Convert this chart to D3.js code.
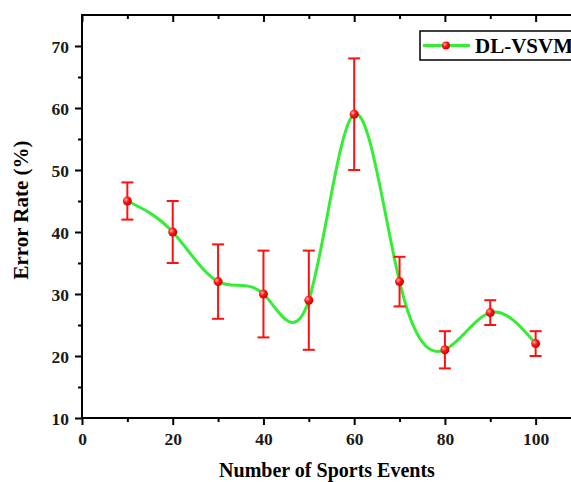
<!DOCTYPE html>
<html lang="en">
<head>
    <meta charset="UTF-8">
    <title>Error Rate vs Number of Sports Events</title>
    <script src="https://d3js.org/d3.v7.min.js"></script>
    <style>
        body { margin: 0; background: #fff; }
        text { font-family: "Liberation Serif", "Times New Roman", serif; font-weight: bold; }
        .axis path, .axis line { stroke: #000; stroke-width: 2; }
        .axis text { font-size: 17.5px; fill: #1a1a1a; }
    </style>
</head>
<body>
    <script>
        const events = [10, 20, 30, 40, 50, 60, 70, 80, 90, 100]
        const errorRate = [45, 40, 32, 30, 29, 59, 32, 21, 27, 22]
        const errLow = [42, 35, 26, 23, 21, 50, 28, 18, 25, 20]
        const errHigh = [48, 45, 38, 37, 37, 68, 36, 24, 29, 24]
        const xTicks = [0, 20, 40, 60, 80, 100]
        const yTicks = [10, 20, 30, 40, 50, 60, 70]
        const seriesName = "DL-VSVM"

        const W = 571, H = 482
        const margin = {top: 15, right: -10, bottom: 64, left: 82}
        const width = W - margin.left - margin.right,
              height = H - margin.top - margin.bottom

        const svg = d3.select("body").append("svg")
            .attr("width", W)
            .attr("height", H)

        const defs = svg.append("defs")
        const grad = defs.append("radialGradient")
            .attr("id", "ball").attr("cx", "35%").attr("cy", "35%").attr("r", "65%")
        grad.append("stop").attr("offset", "0%").attr("stop-color", "#ffb0b0")
        grad.append("stop").attr("offset", "45%").attr("stop-color", "#ff1a1a")
        grad.append("stop").attr("offset", "100%").attr("stop-color", "#d00000")

        const g = svg.append("g")
            .attr("transform", "translate(" + margin.left + "," + margin.top + ")")

        const x = d3.scaleLinear().domain([0, 110]).range([0, width])
        const y = d3.scaleLinear().domain([10, 75]).range([height, 0])

        const data = events.map((e, i) => ({x: e, y: errorRate[i], lo: errLow[i], hi: errHigh[i]}))

        // frame
        g.append("rect")
            .attr("width", width).attr("height", height)
            .attr("fill", "none").attr("stroke", "#000").attr("stroke-width", 2)

        // bottom axis with minor ticks
        g.append("g")
            .attr("class", "axis")
            .attr("transform", "translate(0," + height + ")")
            .call(d3.axisBottom(x).tickValues(d3.range(0, 110, 10)).tickSize(0).tickFormat(""))
            .call(a => a.select(".domain").remove())
            .selectAll(".tick line").attr("y2", d => d % 20 === 0 ? 7 : 4)
        g.append("g")
            .attr("class", "axis")
            .attr("transform", "translate(0," + height + ")")
            .call(d3.axisBottom(x).tickValues(xTicks).tickSize(0).tickPadding(15))
            .call(a => a.select(".domain").remove())

        // top inward ticks
        g.append("g")
            .attr("class", "axis")
            .call(d3.axisBottom(x).tickValues(d3.range(0, 110, 10)).tickSize(0).tickFormat(""))
            .call(a => a.select(".domain").remove())
            .selectAll(".tick line").attr("y2", d => d % 20 === 0 ? 7 : 4)

        // left axis with minor ticks
        g.append("g")
            .attr("class", "axis")
            .call(d3.axisLeft(y).tickValues(d3.range(10, 75, 5)).tickSize(0).tickFormat(""))
            .call(a => a.select(".domain").remove())
            .selectAll(".tick line").attr("x2", d => d % 10 === 0 ? -7 : -4)
        g.append("g")
            .attr("class", "axis")
            .call(d3.axisLeft(y).tickValues(yTicks).tickSize(0).tickPadding(13))
            .call(a => a.select(".domain").remove())
            .selectAll("text").attr("dy", "0.35em")

        // smooth line
        const line = d3.line()
            .x(d => x(d.x)).y(d => y(d.y))
            .curve(d3.curveNatural)
        g.append("path")
            .datum(data)
            .attr("fill", "none")
            .attr("stroke", "#33ee33")
            .attr("stroke-width", 3)
            .attr("d", line)

        // error bars
        const eb = g.append("g").attr("stroke", "#ff1010").attr("stroke-width", 2)
        eb.selectAll(".v").data(data).enter().append("line")
            .attr("x1", d => x(d.x)).attr("x2", d => x(d.x))
            .attr("y1", d => y(d.lo)).attr("y2", d => y(d.hi))
        eb.selectAll(".ct").data(data).enter().append("line")
            .attr("x1", d => x(d.x) - 6).attr("x2", d => x(d.x) + 6)
            .attr("y1", d => y(d.hi)).attr("y2", d => y(d.hi))
        eb.selectAll(".cb").data(data).enter().append("line")
            .attr("x1", d => x(d.x) - 6).attr("x2", d => x(d.x) + 6)
            .attr("y1", d => y(d.lo)).attr("y2", d => y(d.lo))

        // markers
        g.selectAll(".pt").data(data).enter().append("circle")
            .attr("cx", d => x(d.x)).attr("cy", d => y(d.y))
            .attr("r", 4.5).attr("fill", "url(#ball)")

        // legend
        const lg = svg.append("g").attr("transform", "translate(420,31)")
        lg.append("rect").attr("width", 170).attr("height", 29)
            .attr("fill", "#fff").attr("stroke", "#000").attr("stroke-width", 1.5)
        lg.append("line").attr("x1", 3).attr("x2", 50).attr("y1", 14.5).attr("y2", 14.5)
            .attr("stroke", "#33ee33").attr("stroke-width", 3)
        lg.append("circle").attr("cx", 26).attr("cy", 14.5).attr("r", 4).attr("fill", "url(#ball)")
        lg.append("text").attr("x", 55).attr("y", 22).style("font-size", "21px").text(seriesName)

        // axis titles
        svg.append("text")
            .attr("x", 327)
            .attr("y", 477)
            .attr("text-anchor", "middle")
            .style("font-size", "20px")
            .text("Number of Sports Events")

        svg.append("text")
            .attr("transform", "translate(28," + 210 + ") rotate(-90)")
            .attr("text-anchor", "middle")
            .style("font-size", "21px")
            .text("Error Rate (%)")
    </script>
</body>
</html>
